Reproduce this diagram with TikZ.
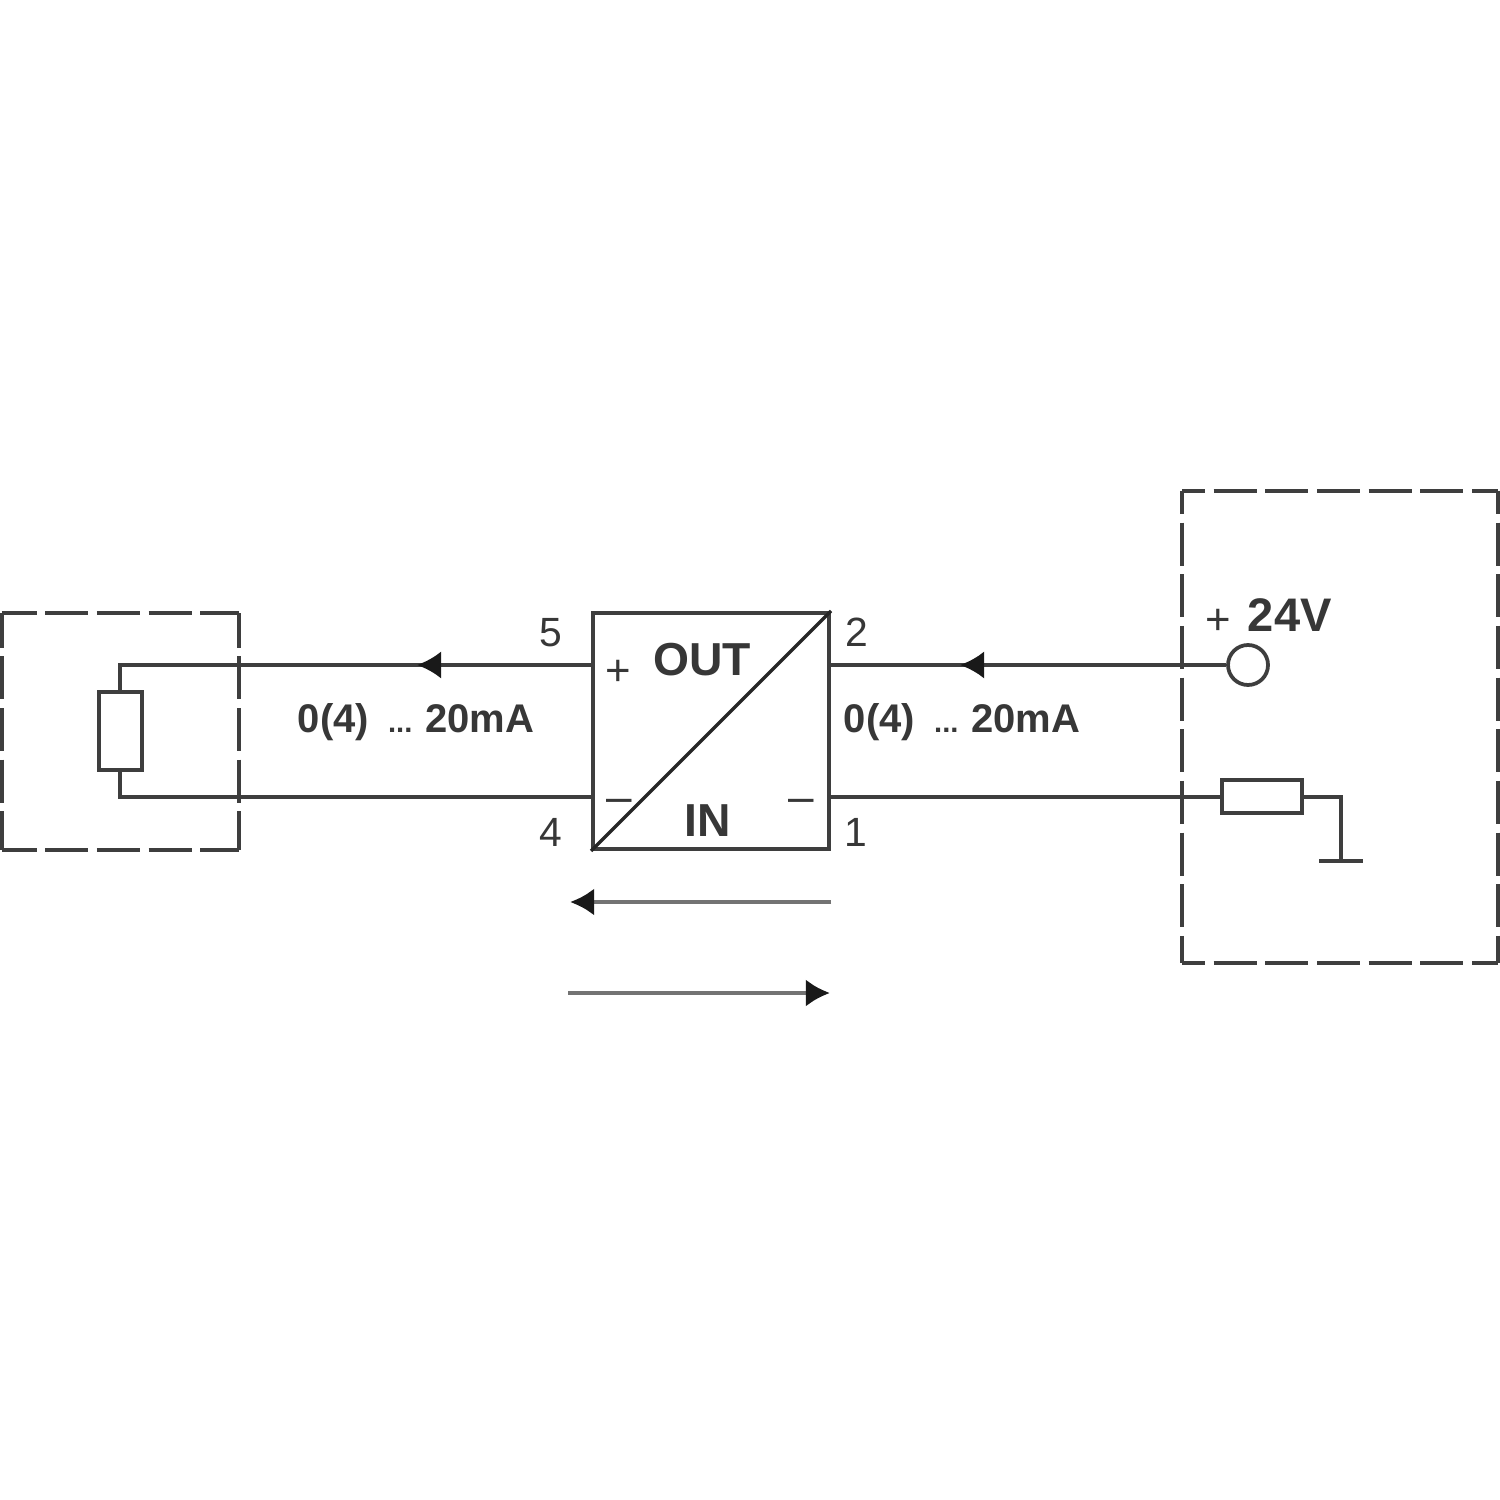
\documentclass[tikz,border=0pt]{standalone}
\usepackage{fontspec}
\setmainfont{Liberation Sans}
\usetikzlibrary{arrows.meta}
\definecolor{ln}{RGB}{62,62,62}
\definecolor{tx}{RGB}{55,55,55}
\tikzset{
 wire/.style={draw=ln,line width=0.85pt},
 dashleft/.style={draw=ln,line width=0.95pt,dash pattern=on 10.3pt off 2.1pt,dash phase=2pt},
 dashright/.style={draw=ln,line width=0.95pt,dash pattern=on 10.3pt off 2.1pt,dash phase=4.8pt},
 partbox/.style={draw=ln,line width=0.95pt,fill=white},
 flow/.style={wire,-{Latex[length=5.8pt,width=6.6pt,color=black!90]}},
 lab/.style={text=tx,font=\fontsize{9.6pt}{10pt}\selectfont\bfseries,inner sep=0pt,anchor=base west},
 biglab/.style={text=tx,font=\fontsize{11.1pt}{12pt}\selectfont\bfseries,inner sep=0pt,anchor=base},
 num/.style={text=tx,font=\fontsize{9.8pt}{10pt}\selectfont,inner sep=0pt,anchor=base},
 sign/.style={text=tx,font=\fontsize{10.5pt}{11pt}\selectfont,inner sep=0pt},
 thinarrow/.style={draw=black!55,line width=1.1pt,-{Latex[length=5.8pt,width=6.6pt,color=black!90]}}
}
\newcommand{\currlab}{0(4)\hspace{4.6pt}{\fontsize{7pt}{8pt}\selectfont ...}\hspace{3.1pt}20mA}
\begin{document}
\begin{tikzpicture}[x=0.24pt,y=-0.24pt]
\useasboundingbox[fill=white] (0,0) rectangle (1500,1500);
% dashed boxes
\coordinate (la1) at (2,613); \coordinate (la2) at (239,613);
\coordinate (la3) at (2,850); \coordinate (la4) at (239,850);
\coordinate (ra1) at (1182,491); \coordinate (ra2) at (1498,491);
\coordinate (ra3) at (1182,963); \coordinate (ra4) at (1498,963);
\draw[dashleft] (la1) -- (la2) (la1) -- (la3) (la2) -- (la4) (la3) -- (la4);
\draw[dashright] (ra1) -- (ra2) (ra1) -- (ra3) (ra2) -- (ra4) (ra3) -- (ra4);
% main block
\node[draw=ln,line width=1pt,minimum width=56.6pt,minimum height=56.6pt,inner sep=0pt] (conv) at (711,731) {};
\draw[draw=black!85,line width=0.8pt] (conv.south west) -- (conv.north east);
% left load
\node[partbox,minimum width=10.2pt,minimum height=18.7pt,inner sep=0pt] (load) at (120.5,731) {};
\coordinate (ltop) at (120,665);
\coordinate (lbot) at (120,797);
\coordinate (c5) at (592,665);
\coordinate (c4) at (592,797);
\coordinate (la) at (417,665);
\draw[wire] (load.north -| ltop) -- (ltop) -- (c5);
\draw[wire] (load.south -| lbot) -- (lbot) -- (c4);
\draw[flow] (c5) -- (la);
% right
\node[draw=ln,line width=0.9pt,circle,minimum size=9.6pt,inner sep=0pt] (term) at (1248,665) {};
\coordinate (c2) at (829,665);
\coordinate (c1) at (829,797);
\coordinate (ra) at (960,665);
\draw[wire] (term.west) -- (c2);
\draw[flow] (term.west) -- (ra);
\node[partbox,minimum width=19.2pt,minimum height=7.8pt,inner sep=0pt] (rr) at (1262,796.5) {};
\draw[wire] (c1) -- (rr.west |- c1);
\coordinate (gt) at (1341,797);
\coordinate (gb) at (1341,861);
\coordinate (gl) at (1319,861);
\coordinate (gr) at (1363,861);
\draw[wire] (rr.east |- gt) -- (gt) -- (gb);
\draw[wire] (gl) -- (gr);
% lower arrows
\coordinate (a1r) at (831,902);
\coordinate (a1l) at (570,902);
\coordinate (a2l) at (568,993);
\coordinate (a2r) at (830,993);
\draw[thinarrow] (a1r) -- (a1l);
\draw[thinarrow] (a2l) -- (a2r);
% texts
\node[lab] (t1) at (297,732) {\currlab};
\node[lab] (t2) at (843,732) {\currlab};
\node[biglab] (o) at (702,675) {OUT};
\node[biglab] (i) at (708,836) {IN};
\node[sign] (vp) at (1218,622) {+};
\node[biglab,anchor=base west,font=\fontsize{11.3pt}{12pt}\selectfont\bfseries] (v) at (1247,631) {24V};
\node[sign] (p) at (618,673) {+};
\node[sign,font=\fontsize{11pt}{11pt}\selectfont] (m1) at (619,806) {–};
\node[sign,font=\fontsize{11pt}{11pt}\selectfont] (m2) at (801,806) {–};
\node[num] (n5) at (551,646) {5};
\node[num] (n2) at (857,646) {2};
\node[num] (n4) at (551,846) {4};
\node[num] (n1) at (856,846) {1};
\end{tikzpicture}
\end{document}
